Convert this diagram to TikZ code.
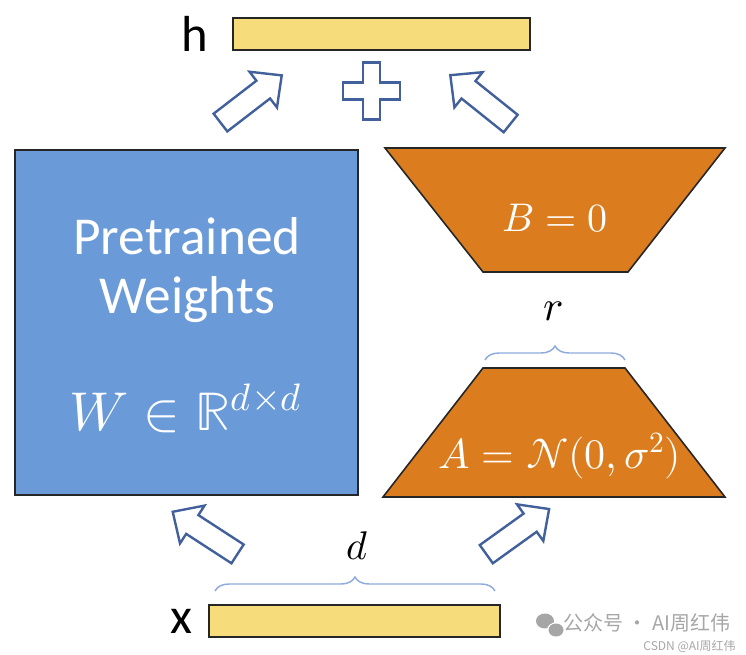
\documentclass[tikz,border=0pt]{standalone}
\usepackage{fontspec}
\usepackage{unicode-math}
\setmainfont{Carlito}
\setmathfont{Latin Modern Math}
\newfontfamily\cjkfont{Noto Sans CJK SC}
\usetikzlibrary{shapes.arrows,decorations.pathreplacing}
\definecolor{wblue}{HTML}{6A9BD8}
\definecolor{loraorange}{HTML}{DB7D1E}
\definecolor{vecyellow}{HTML}{F6DC7A}
\definecolor{arrowblue}{HTML}{41609C}
\definecolor{bracecol}{HTML}{8FAADC}
\definecolor{wmgray}{HTML}{A6A6A6}

\begin{document}
\begin{tikzpicture}[x=0.75pt,y=-0.75pt,
  bar/.style={draw=black!85,fill=vecyellow,line width=1.2pt,minimum width=#1,minimum height=24pt,inner sep=0pt},
  barrow/.style={single arrow,draw=arrowblue,fill=white,line width=1.8pt,minimum height=58pt,inner xsep=0pt,inner ysep=7.5pt,single arrow head extend=8.5pt,single arrow tip angle=88},
  trap/.style={draw=black!85,fill=loraorange,line width=1.2pt,line join=miter},
  brace/.style={decorate,decoration={brace,amplitude=10.5pt},draw=bracecol,line width=1.1pt},
  wtxt/.style={text=white,font=\fontsize{40}{44}\selectfont,inner sep=0pt}]
\useasboundingbox (0,0) rectangle (746,655);
% vectors in and out
\node[bar=222.75pt] (hvec) at (381.5,34) {};
\node[font=\fontsize{38}{40}\selectfont,anchor=east] (hlab) at (213,34) {h};
\node[bar=218.25pt] (xvec) at (354.5,621) {};
\node[font=\fontsize{38}{40}\selectfont,anchor=east] (xlab) at (197,621) {x};
% frozen weights
\node[draw=black!85,fill=wblue,line width=1.2pt,minimum width=257.25pt,minimum height=258.75pt] (wbox) at (186.5,322.5) {};
\node[wtxt] (pre) at (187,236) {Pretrained};
\node[wtxt] (wei) at (187,300) {Weights};
\node[wtxt,font=\fontsize{41}{44}\selectfont] (wdim) at (186,408) {$W\in\mathbb{R}^{d\times d}$};
% low rank branch
\draw[trap] (385,148) -- (725,148) -- (628,272) -- (483,272) -- cycle;
\node[wtxt,font=\fontsize{30}{34}\selectfont] (bval) at (555,218) {$B=0$};
\draw[trap] (483,368) -- (625,368) -- (725,497) -- (383,497) -- cycle;
\node[wtxt,font=\fontsize{31.5}{34}\selectfont] (aval) at (560,456) {$A=\mathcal{N}(0,\sigma^2)$};
% dimensions
\coordinate (rL) at (485,360);
\coordinate (rR) at (625,360);
\draw[brace] (rL) -- (rR);
\node[font=\fontsize{32}{34}\selectfont] (rlab) at (553,311) {$r$};
\coordinate (dL) at (215,591);
\coordinate (dR) at (495,591);
\draw[brace] (dL) -- (dR);
\node[font=\fontsize{30}{34}\selectfont] (dlab) at (357,546) {$d$};
% flow
\node[barrow,rotate=147] (inW) at (210,536) {};
\node[barrow,rotate=35.7] (inA) at (513,535) {};
\node[barrow,rotate=37.6] (upL) at (246.5,102.5) {};
\node[barrow,rotate=141.3] (upR) at (485,103) {};
\coordinate (plus) at (371.5,91);
\draw[draw=arrowblue,fill=white,line width=1.8pt,shift={(plus)}]
  (-8.5,-28.5) -- (8.5,-28.5) -- (8.5,-8.5) -- (28.5,-8.5) -- (28.5,8.5) -- (8.5,8.5)
  -- (8.5,28.5) -- (-8.5,28.5) -- (-8.5,8.5) -- (-28.5,8.5) -- (-28.5,-8.5) -- (-8.5,-8.5) -- cycle;
% watermark
\fill[wmgray] (545,621) ellipse (9 and 7.5);
\fill[white] (556,630) ellipse (9 and 7.5);
\fill[wmgray] (556,630) ellipse (7.5 and 6.5);
\node[anchor=west,text=wmgray,font=\cjkfont\fontsize{15}{17}\selectfont,inner sep=0pt] (wm1) at (563,623) {公众号 · AI周红伟};
\node[anchor=east,text=wmgray,font=\cjkfont\fontsize{9}{11}\selectfont,inner sep=0pt] (wm2) at (736,646) {CSDN @AI周红伟};
\end{tikzpicture}
\end{document}
